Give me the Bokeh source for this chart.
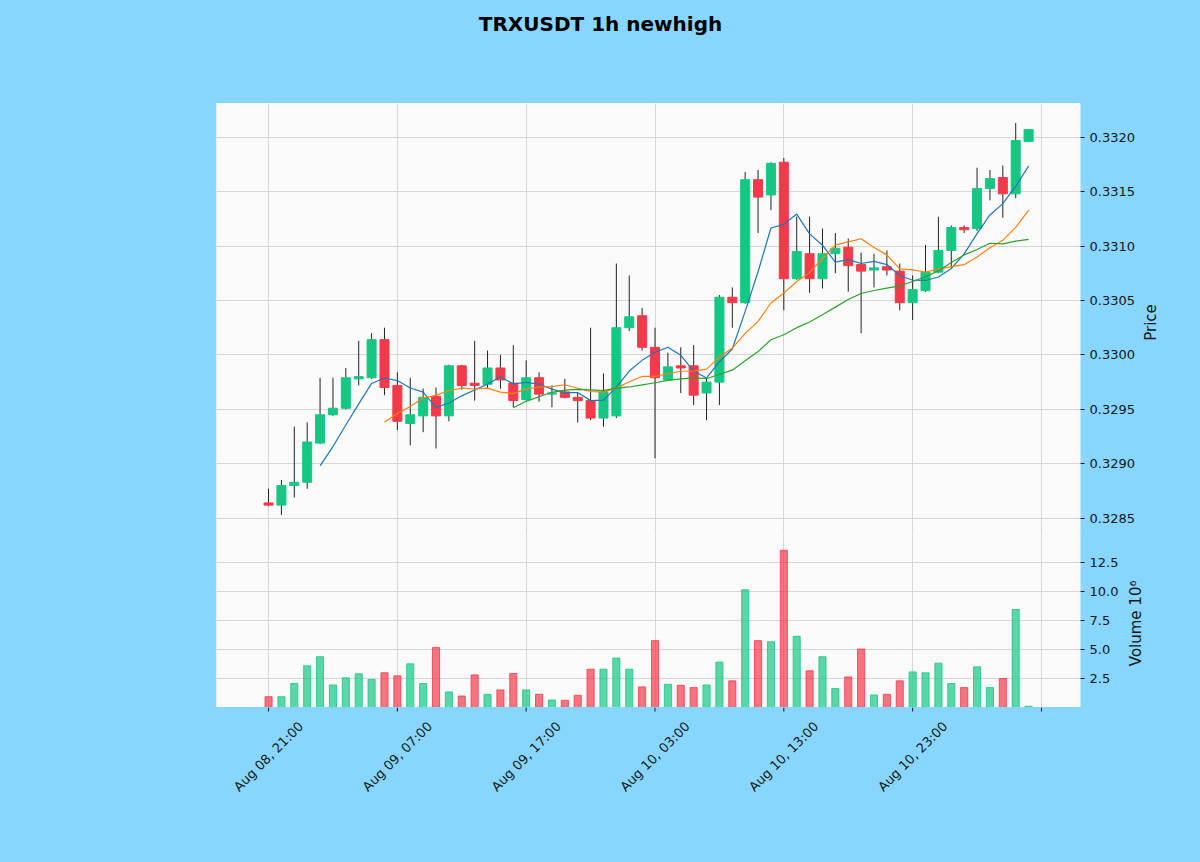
import math
import pandas as pd
from bokeh.plotting import figure
from bokeh.layouts import column, row
from bokeh.models import (ColumnDataSource, FixedTicker, PrintfTickFormatter, Grid, Range1d)
from bokeh.core.properties import value
from bokeh.embed import file_html
from bokeh.resources import INLINE

title_text = "TRXUSDT 1h newhigh"
price_label = "Price"
volume_label = "Volume  10\u2076"

# x tick positions (candle index) and their labels
tick_idx = [0, 10, 20, 30, 40, 50, 60]
tick_labels = ["Aug 08, 21:00", "Aug 09, 07:00", "Aug 09, 17:00",
               "Aug 10, 03:00", "Aug 10, 13:00", "Aug 10, 23:00", ""]

price_ticks = [0.3285, 0.3290, 0.3295, 0.3300, 0.3305, 0.3310, 0.3315, 0.3320]
volume_ticks = [2.5, 5.0, 7.5, 10.0, 12.5]

opens = [0.32864, 0.32862, 0.32880, 0.32883, 0.32919, 0.32945, 0.32951, 0.32978, 0.32979, 0.33014,
         0.32972, 0.32937, 0.32944, 0.32962, 0.32944, 0.32990, 0.32974, 0.32973, 0.32988, 0.32974,
         0.32959, 0.32979, 0.32964, 0.32966, 0.32961, 0.32958, 0.32942, 0.32944, 0.33025, 0.33036,
         0.33007, 0.32977, 0.32990, 0.32990, 0.32965, 0.32975, 0.33053, 0.33048, 0.33161, 0.33147,
         0.33177, 0.33070, 0.33093, 0.33070, 0.33093, 0.33099, 0.33083, 0.33078, 0.33081, 0.33077,
         0.33048, 0.33059, 0.33076, 0.33096, 0.33117, 0.33116, 0.33153, 0.33163, 0.33148, 0.33196]
highs = [0.32877, 0.32885, 0.32934, 0.32938, 0.32979, 0.32979, 0.32988, 0.33013, 0.33020, 0.33025,
         0.32984, 0.32979, 0.32969, 0.32970, 0.32991, 0.32991, 0.33013, 0.33004, 0.33000, 0.33009,
         0.32995, 0.32984, 0.32972, 0.32978, 0.32965, 0.33025, 0.32983, 0.33084, 0.33073, 0.33043,
         0.33025, 0.33002, 0.33007, 0.33009, 0.32979, 0.33055, 0.33062, 0.33168, 0.33170, 0.33177,
         0.33181, 0.33127, 0.33127, 0.33116, 0.33112, 0.33107, 0.33094, 0.33093, 0.33096, 0.33084,
         0.33073, 0.33101, 0.33127, 0.33119, 0.33119, 0.33172, 0.33170, 0.33174, 0.33213, 0.33207]
lows = [0.32861, 0.32853, 0.32869, 0.32877, 0.32918, 0.32944, 0.32950, 0.32972, 0.32978, 0.32963,
        0.32931, 0.32917, 0.32929, 0.32914, 0.32939, 0.32968, 0.32958, 0.32969, 0.32969, 0.32952,
        0.32958, 0.32957, 0.32952, 0.32960, 0.32938, 0.32940, 0.32934, 0.32942, 0.33022, 0.33004,
        0.32905, 0.32976, 0.32965, 0.32954, 0.32940, 0.32954, 0.33025, 0.33047, 0.33112, 0.33133,
        0.33041, 0.33069, 0.33057, 0.33061, 0.33075, 0.33058, 0.33020, 0.33062, 0.33073, 0.33041,
        0.33032, 0.33058, 0.33075, 0.33080, 0.33112, 0.33114, 0.33142, 0.33126, 0.33144, 0.33196]
closes = [0.32862, 0.32880, 0.32883, 0.32920, 0.32945, 0.32951, 0.32979, 0.32980, 0.33014, 0.32970,
          0.32939, 0.32945, 0.32961, 0.32944, 0.32990, 0.32972, 0.32972, 0.32988, 0.32977, 0.32958,
          0.32979, 0.32964, 0.32965, 0.32961, 0.32958, 0.32942, 0.32966, 0.33025, 0.33035, 0.33007,
          0.32979, 0.32989, 0.32988, 0.32963, 0.32975, 0.33053, 0.33048, 0.33161, 0.33145, 0.33176,
          0.33070, 0.33095, 0.33070, 0.33093, 0.33098, 0.33082, 0.33077, 0.33080, 0.33078, 0.33048,
          0.33060, 0.33076, 0.33096, 0.33117, 0.33115, 0.33153, 0.33162, 0.33148, 0.33197, 0.33207]
# volume in units of 10^6
volumes = [0.97, 0.97, 2.10, 3.62, 4.40, 1.98, 2.59, 2.93, 2.44, 3.02,
           2.76, 3.79, 2.10, 5.20, 1.38, 1.03, 2.84, 1.18, 1.55, 2.96,
           1.55, 1.18, 0.69, 0.66, 1.09, 3.33, 3.33, 4.28, 3.33, 1.81,
           5.78, 2.04, 1.95, 1.75, 1.98, 3.94, 2.33, 10.14, 5.78, 5.69,
           13.53, 6.15, 3.19, 4.40, 1.67, 2.67, 5.06, 1.12, 1.18, 2.33,
           3.10, 3.02, 3.85, 2.10, 1.75, 3.53, 1.75, 2.53, 8.45, 0.15]

ma_periods = [5, 10, 20]
ma_colors = ["#1f77b4", "#ff7f0e", "#2ca02c"]

UP = "#16c784"
DOWN = "#f23a4a"
BG = "#88d6fd"
FACE = "#fafafa"
GRID = "#d6d6d6"
TXT = "#111820"
FONT = "DejaVu Sans"

n = len(closes)
idx = list(range(n))
colors = [UP if c >= o else DOWN for o, c in zip(opens, closes)]
df = pd.DataFrame(dict(x=idx, open=opens, high=highs, low=lows, close=closes,
                       volume=volumes, color=colors))
df["top"] = df[["open", "close"]].max(axis=1)
df["bottom"] = df[["open", "close"]].min(axis=1)
src = ColumnDataSource(df)

W = 1198
FRAME_L, FRAME_R = 216, 1080
TITLE_H = 103         # y where the price frame starts
P1_BOT = 534          # price frame bottom / volume frame top
P2_BOT = 707          # volume frame bottom
H_TOTAL = 860
P1_W = 1138           # price panel width; its side strip holds the "Price" label
P2_W = 1122           # volume panel width; its side strip holds the volume label

xr = Range1d(-4.04, 63.03)
pr = Range1d(0.32835, 0.33231)
vr = Range1d(0.3 * min(volumes), 1.1 * max(volumes))

PANEL_CSS = ("linear-gradient(to right, {bg} 0px, {bg} {l}px, {f} {l}px, {f} {r}px, "
             "{bg} {r}px, {bg} 100%)").format(bg=BG, f=FACE, l=FRAME_L, r=FRAME_R)


def base(p, width, face=FACE):
    p.background_fill_color = face
    p.border_fill_color = BG
    p.outline_line_color = None
    p.min_border_left = FRAME_L
    p.min_border_right = width - FRAME_R
    p.min_border_top = 0
    p.min_border_bottom = 0
    if face == FACE:
        p.styles = {"background": PANEL_CSS}
    else:
        p.styles = {"background-color": BG}
    return p


def strip(width, height):
    s = figure(width=width, height=height, x_range=Range1d(0, width), y_range=Range1d(0, height),
               output_backend="svg", toolbar_location=None, x_axis_location=None,
               y_axis_location=None, tools="")
    s.background_fill_color = BG
    s.border_fill_color = BG
    s.outline_line_color = None
    s.min_border = 0
    s.min_border_left = 0
    s.min_border_right = 0
    s.min_border_top = 0
    s.min_border_bottom = 0
    s.grid.visible = False
    s.styles = {"background-color": BG}
    return s


# --- title strip (frame aligned with the panels below, data units = pixels)
pt = figure(width=W, height=TITLE_H, x_range=Range1d(FRAME_L, FRAME_R),
            y_range=Range1d(0, TITLE_H), output_backend="svg", toolbar_location=None,
            x_axis_location=None, y_axis_location=None, tools="")
base(pt, W, BG)
pt.grid.visible = False
pt.text(x=[600], y=[TITLE_H - 23], text=[title_text], text_align="center",
        text_baseline="alphabetic", text_font=value(FONT), text_font_size="20px",
        text_font_style="bold", text_color="#000000")

# --- price panel
H1 = P1_BOT - TITLE_H
p1 = figure(width=P1_W, height=H1, x_range=xr, y_range=pr, output_backend="svg",
            toolbar_location=None, x_axis_location=None, y_axis_location="right", tools="")
base(p1, P1_W)
p1.add_layout(Grid(dimension=0, ticker=FixedTicker(ticks=tick_idx),
                   grid_line_color=GRID, grid_line_width=1))
p1.ygrid.ticker = FixedTicker(ticks=price_ticks)
p1.ygrid.grid_line_color = GRID

ya = p1.yaxis[0]
ya.ticker = FixedTicker(ticks=price_ticks)
ya.formatter = PrintfTickFormatter(format="%.4f")

p1.segment(x0="x", y0="low", x1="x", y1="high", source=src, line_color="#222222", line_width=1)
p1.vbar(x="x", top="top", bottom="bottom", width=0.7, source=src,
        fill_color="color", line_color="color", line_width=1)

cs = pd.Series(closes)
for per, col in zip(ma_periods, ma_colors):
    ma = cs.rolling(per).mean()
    m = ma.notna()
    p1.line(x=[i for i, k in zip(idx, m) if k], y=list(ma[m]), line_color=col, line_width=1.2)

s1 = strip(W - P1_W, H1)
s1.text(x=[1150 - P1_W], y=[H1 - (322 - TITLE_H)], text=[price_label], angle=math.pi / 2,
        text_align="center", text_baseline="alphabetic", text_font=value(FONT),
        text_font_size="15px", text_color=TXT)

# --- volume panel
H2 = P2_BOT - P1_BOT
p2 = figure(width=P2_W, height=H2, x_range=xr, y_range=vr, output_backend="svg",
            toolbar_location=None, x_axis_location=None, y_axis_location="right", tools="")
base(p2, P2_W)
p2.add_layout(Grid(dimension=0, ticker=FixedTicker(ticks=tick_idx),
                   grid_line_color=GRID, grid_line_width=1))
p2.ygrid.ticker = FixedTicker(ticks=volume_ticks)
p2.ygrid.grid_line_color = GRID

p2.vbar(x="x", top="volume", bottom=0, width=0.55, source=src,
        fill_color="color", line_color="color", fill_alpha=0.7, line_alpha=0.8)

va = p2.yaxis[0]
va.ticker = FixedTicker(ticks=volume_ticks)
va.formatter = PrintfTickFormatter(format="%.1f")

s2 = strip(W - P2_W, H2)
s2.text(x=[1135 - P2_W], y=[H2 / 2], text=[volume_label], angle=math.pi / 2,
        text_align="center", text_baseline="alphabetic", text_font=value(FONT),
        text_font_size="15px", text_color=TXT)

for ax in (ya, va):
    ax.axis_line_color = None
    ax.major_tick_out = 4
    ax.major_tick_in = 0
    ax.major_tick_line_color = TXT
    ax.minor_tick_line_color = None
    ax.major_label_text_font = FONT
    ax.major_label_text_font_size = "13px"
    ax.major_label_text_color = TXT
    ax.major_label_standoff = 5

# --- x tick marks and rotated date labels
XL_H = H_TOTAL - P2_BOT
px = figure(width=W, height=XL_H, x_range=xr, y_range=Range1d(0, XL_H), output_backend="svg",
            toolbar_location=None, x_axis_location=None, y_axis_location=None, tools="")
base(px, W, BG)
px.grid.visible = False
px.segment(x0=tick_idx, y0=[XL_H] * len(tick_idx), x1=tick_idx, y1=[XL_H - 4] * len(tick_idx),
           line_color=TXT, line_width=1)
px.text(x=tick_idx, y=[XL_H - 49] * len(tick_idx), text=tick_labels, angle=math.pi / 4,
        text_align="center", text_baseline="middle", text_font=value(FONT),
        text_font_size="13px", text_color=TXT)

layout = column(pt, row(p1, s1, spacing=0), row(p2, s2, spacing=0), px, spacing=0)
layout.styles = {"background-color": BG}
html = file_html(layout, INLINE, title=title_text)
html = html.replace("</head>", "<style>html,body{background:%s;}</style></head>" % BG, 1)
open("out.html", "w").write(html)
